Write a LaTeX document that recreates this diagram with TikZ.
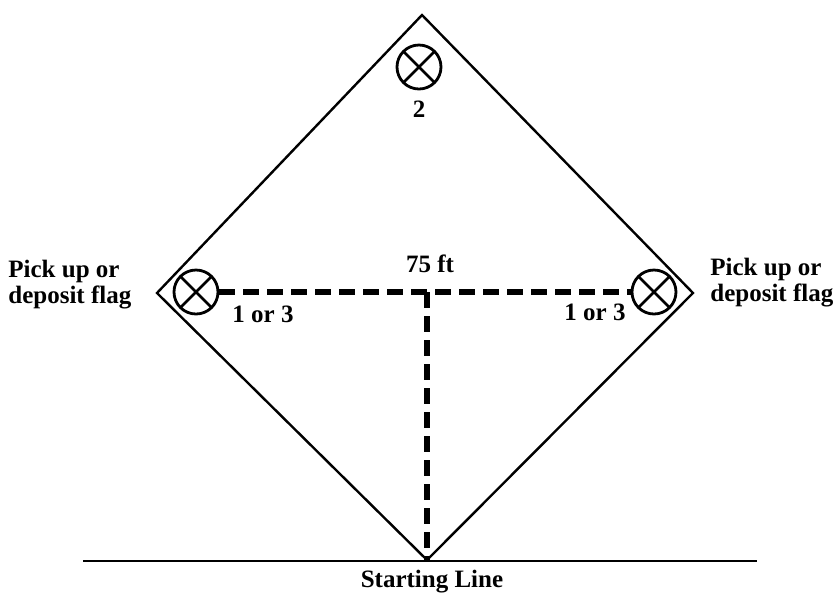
\documentclass[tikz,border=0pt]{standalone}
\usepackage{fontspec}
\setmainfont{Liberation Serif}
\usepackage{tikz}
\usetikzlibrary{calc,positioning}
\tikzset{
  fieldline/.style={line width=1.2pt, black, line cap=round},
  startline/.style={line width=1pt, black},
  measure/.style={line width=2.6pt, black, dash pattern=on 8pt off 4pt},
  flagmark/.style={circle, draw, line width=1.4pt, minimum size=22pt, inner sep=0pt,
    path picture={\draw[line width=1.4pt]
      (path picture bounding box.north west) -- (path picture bounding box.south east)
      (path picture bounding box.north east) -- (path picture bounding box.south west);}},
  lbl/.style={font=\fontsize{12.5}{13}\selectfont\bfseries, inner sep=0pt},
  sidelbl/.style={lbl, align=left, anchor=west},
}
\begin{document}
\begin{tikzpicture}[x=0.5pt, y=-0.5pt]
  \useasboundingbox (0,0) rectangle (837,602);
  % corners of the course
  \coordinate (top) at (422,15);
  \coordinate (rgt) at (693,293);
  \coordinate (bot) at (427,560);
  \coordinate (lft) at (157,293);
  \coordinate (mid) at (427,292);
  \coordinate (sl) at (83,561);
  \coordinate (sr) at (757,561);
  \draw[fieldline] (top) -- (rgt) -- (bot) -- (lft) -- cycle;
  \draw[startline] (sl) -- (sr);
  % flags
  \node[flagmark] (f2) at (419,67) {};
  \node[flagmark] (f1) at (196,292) {};
  \node[flagmark] (f3) at (654,292) {};
  \draw[measure] (f1) -- (f3);
  \draw[measure] (mid) -- (bot);
  % labels
  \node[lbl] (n2) at (419,109) {2};
  \node[lbl] (dist) at (430,264) {75 ft};
  \node[lbl] (n1) at (263,314) {1 or 3};
  \node[lbl] (n3) at (595,312) {1 or 3};
  \node[sidelbl] (pl) at (8,285) {Pick up or\\deposit flag};
  \node[sidelbl] (pr) at (710,283) {Pick up or\\deposit flag};
  \node[lbl] (start) at (432,582) {Starting Line};
\end{tikzpicture}
\end{document}
